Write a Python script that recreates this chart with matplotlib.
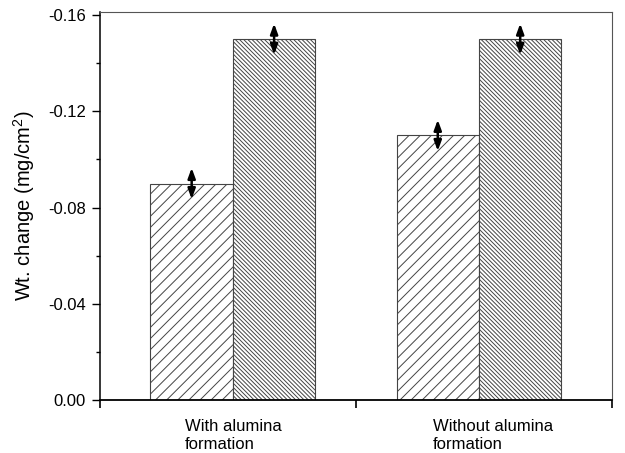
import matplotlib.pyplot as plt
import matplotlib.transforms as mtransforms
import numpy as np

plt.rcParams['font.family'] = ['Liberation Sans', 'DejaVu Sans']
plt.rcParams['hatch.linewidth'] = 0.7

groups = ["With alumina\nformation", "Without alumina\nformation"]
series_a = [-0.09, -0.11]
series_b = [-0.15, -0.15]
err_a = [0.0065, 0.0065]
err_b = [0.0065, 0.0065]

x = np.array([1, 2])
w = 0.335

fig, ax = plt.subplots(figsize=(6.25, 4.53), dpi=100)
fig.subplots_adjust(left=0.16, right=0.979, bottom=0.117, top=0.9735)

ax.bar(x - w / 2, series_a, w, color='white', edgecolor='#444444',
       hatch='///', linewidth=0.8)
ax.bar(x + w / 2, series_b, w, color='white', edgecolor='#444444',
       hatch='\\' * 8, linewidth=0.8)

for xs, vals, errs in [(x - w / 2, series_a, err_a), (x + w / 2, series_b, err_b)]:
    for xi, v, e in zip(xs, vals, errs):
        ax.annotate('', xy=(xi, v - e), xytext=(xi, v + e),
                    arrowprops=dict(arrowstyle='<|-|>,head_length=0.6,head_width=0.22',
                                    color='black', lw=1.8, shrinkA=0, shrinkB=0))

ax.set_xlim(0.46, 2.54)
ax.set_ylim(0, -0.1613)
ax.set_yticks([0.0, -0.04, -0.08, -0.12, -0.16])
ax.set_yticklabels(['0.00', '-0.04', '-0.08', '-0.12', '-0.16'])
ax.set_yticks([-0.02, -0.06, -0.10, -0.14], minor=True)
ax.set_xticks(x)
ax.set_xticklabels(groups, ha='center', multialignment='left')
ax.tick_params(axis='x', length=0, pad=14, labelsize=12)
# second label sits a little right of its group in the original
lab2 = ax.get_xticklabels()[1]
lab2.set_transform(lab2.get_transform() +
                   mtransforms.ScaledTranslation(14 / 100, 0, fig.dpi_scale_trans))
ax.set_xticks([0.46, 1.5, 2.54], minor=True)
ax.tick_params(axis='x', which='minor', length=6, width=1.2, direction='out')
ax.tick_params(axis='y', which='major', length=6, width=1, labelsize=12, pad=4)
ax.tick_params(axis='y', which='minor', length=3, width=1)

ax.set_ylabel(r'Wt. change (mg/cm$^{\mathregular{2}}$)', fontsize=14.5, labelpad=8)
for s in ['top', 'right']:
    ax.spines[s].set_color('#555555')
    ax.spines[s].set_linewidth(0.8)
ax.spines['bottom'].set_linewidth(1.3)
ax.spines['left'].set_linewidth(1.1)

plt.savefig('out.png')
